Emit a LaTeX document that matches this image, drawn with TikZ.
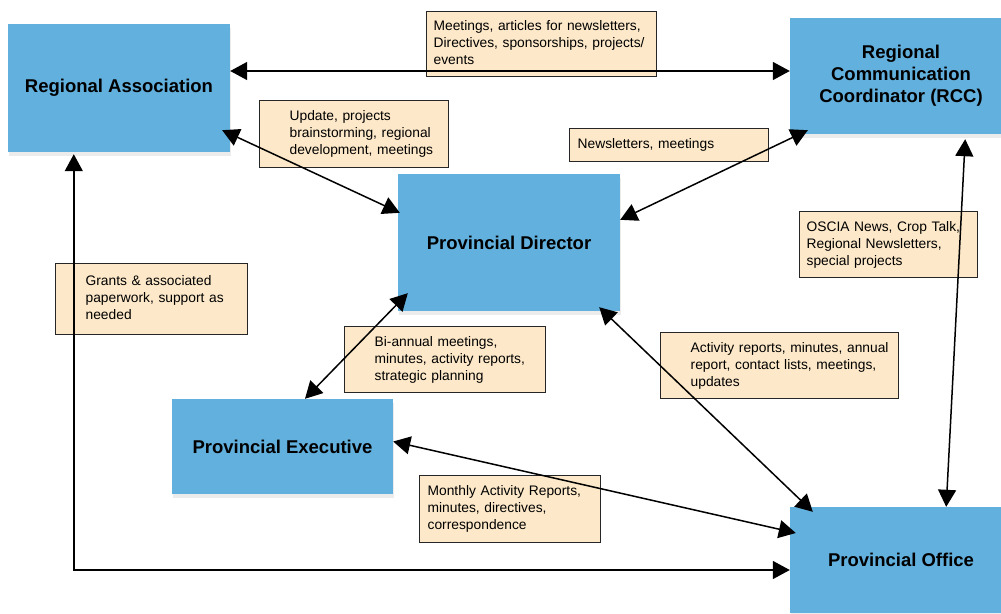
\documentclass[tikz,border=0pt]{standalone}
\usepackage{fontspec}
\setmainfont{Liberation Sans}
\usepackage{xcolor}
\usetikzlibrary{arrows.meta,shadows}
\definecolor{boxblue}{RGB}{98,176,221}
\definecolor{notepeach}{RGB}{253,233,201}

\begin{document}
\begin{tikzpicture}[x=1pt, y=-1pt]
\tikzstyle{b} = [rectangle, fill=boxblue, inner sep=0pt, align=center, font=\fontsize{18.5}{22}\selectfont\bfseries, drop shadow={opacity=0.15, shadow xshift=1pt, shadow yshift=-4pt}]
\tikzstyle{t} = [rectangle, draw=black!85, line width=1.3pt, fill=notepeach, anchor=north west, inner sep=0pt, align=left, font=\fontsize{13.8}{17}\selectfont]
\tikzstyle{a} = [{Triangle[length=17pt,width=18pt]}-{Triangle[length=17pt,width=18pt]}, line width=1.5pt]
\useasboundingbox (0,0) rectangle (1001,613);
% blue boxes
\node [b, minimum width=222pt, minimum height=128pt] (ra) at (119,88) {Regional Association};
\node [b, minimum width=222pt, minimum height=116pt] (rcc) at (901,76) {Regional\\Communication\\Coordinator (RCC)};
\node [b, minimum width=222pt, minimum height=137pt] (pd) at (509,242.5) {Provincial Director};
\node [b, minimum width=221pt, minimum height=95pt] (pe) at (282.5,446.5) {Provincial Executive};
\node [b, minimum width=222pt, minimum height=106pt] (po) at (901,560) {Provincial Office};
% notes
\node [t, text width=230pt, minimum height=65pt] (meet) at (426,11) {\hspace*{7pt}\begin{tabular}{@{}l@{}}Meetings, articles for newsletters,\\Directives, sponsorships, projects/\\events\end{tabular}};
\node [t, text width=189pt, minimum height=67pt] (upd) at (259,100) {\hspace*{30pt}\begin{tabular}{@{}l@{}}Update, projects\\brainstorming, regional\\development, meetings\end{tabular}};
\node [t, text width=199pt, minimum height=33pt] (news) at (569,128) {\hspace*{8pt}\begin{tabular}{@{}l@{}}Newsletters, meetings\end{tabular}};
\node [t, text width=178pt, minimum height=66pt] (oscia) at (799,211) {\hspace*{7pt}\begin{tabular}{@{}l@{}}OSCIA News, Crop Talk,\\Regional Newsletters,\\special projects\end{tabular}};
\node [t, text width=192pt, minimum height=71pt] (grants) at (55,263) {\hspace*{30pt}\begin{tabular}{@{}l@{}}Grants \& associated\\paperwork, support as\\needed\end{tabular}};
\node [t, text width=201pt, minimum height=66pt] (bian) at (344,326) {\hspace*{30pt}\begin{tabular}{@{}l@{}}Bi-annual meetings,\\minutes, activity reports,\\strategic planning\end{tabular}};
\node [t, text width=238pt, minimum height=66pt] (act) at (660,332) {\hspace*{30pt}\begin{tabular}{@{}l@{}}Activity reports, minutes, annual\\report, contact lists, meetings,\\updates\end{tabular}};
\node [t, text width=181pt, minimum height=67pt] (month) at (419,475) {\hspace*{8pt}\begin{tabular}{@{}l@{}}Monthly Activity Reports,\\minutes, directives,\\correspondence\end{tabular}};
% connectors
\draw [a] ([shift={(0,-17)}]ra.east) -- ([shift={(0,-5)}]rcc.west);
\draw [a] ([shift={(-8,-22)}]ra.south east) -- ([shift={(2,39)}]pd.north west);
\draw [a] ([shift={(18,-4)}]rcc.south west) -- ([shift={(0,46)}]pd.north east);
\draw [a] ([shift={(-47,5)}]rcc.south east) -- ([shift={(-66,0)}]po.north east);
\draw [a] ([shift={(10,-18)}]pd.south west) -- ([shift={(22.5,0)}]pe.north);
\draw [a] ([shift={(-21,-4)}]pd.south east) -- ([shift={(23,5)}]po.north west);
\draw [a] ([shift={(0,-5)}]pe.east) -- ([shift={(6,-27)}]po.west);
\draw [a] ([shift={(66,2)}]ra.south west) |- ([shift={(0,10)}]po.west);
\end{tikzpicture}
\end{document}
